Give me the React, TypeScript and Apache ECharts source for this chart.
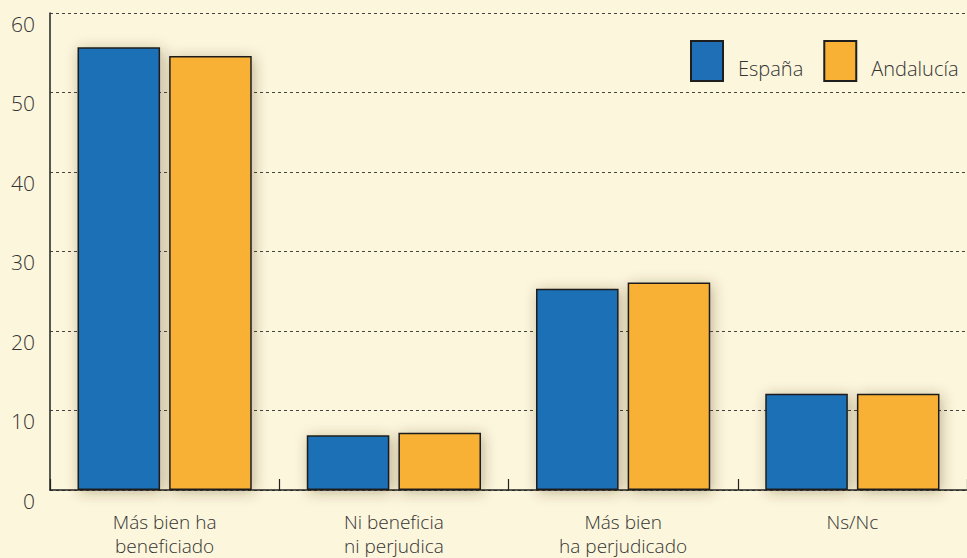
import React, { useEffect, useRef } from "react";
import * as echarts from "echarts";

const categories = ["Más bien ha\nbeneficiado", "Ni beneficia\nni perjudica", "Más bien\nha perjudicado", "Ns/Nc"];
const espana = [55.7, 6.9, 25.3, 12.1];
const andalucia = [54.6, 7.2, 26.1, 12.1];
const seriesNames = ["España", "Andalucía"];
const yTicks = { min: 0, max: 60, interval: 10 };

const FONT = "'Open Sans', Lato, sans-serif";

export default function App() {
  const ref = useRef<HTMLDivElement>(null);
  useEffect(() => {
    if (!ref.current) return;
    const chart = echarts.init(ref.current, undefined, { renderer: "svg" });
    const barStyle = (color: string) => ({
      color,
      borderColor: "#1e1e1e",
      borderWidth: 1.5,
      shadowBlur: 14,
      shadowColor: "rgba(70,55,20,0.35)",
      shadowOffsetX: 2,
      shadowOffsetY: 2,
    });
    chart.setOption({
      animation: false,
      backgroundColor: "#fcf6dc",
      textStyle: { fontFamily: FONT },
      grid: { left: 50, top: 13, right: -3, bottom: 68, containLabel: false },
      legend: {
        left: 690,
        top: 40,
        padding: 0,
        itemWidth: 32,
        itemHeight: 40,
        itemGap: 20,
        icon: "rect",
        data: seriesNames,
        formatter: "{t|{name}}",
        textStyle: {
          fontFamily: FONT,
          fontSize: 20,
          fontWeight: 300,
          color: "#333",
          rich: {
            t: {
              fontFamily: FONT,
              fontSize: 20,
              fontWeight: 300,
              color: "#333",
              padding: [14, 0, 0, 10],
            },
          },
        },
      },
      xAxis: {
        type: "category",
        data: categories,
        axisLine: { show: true, lineStyle: { color: "#222", width: 1.5 } },
        axisTick: { show: true, inside: true, length: 11, lineStyle: { color: "#222", width: 1.2 } },
        axisLabel: {
          fontFamily: FONT,
          fontSize: 19,
          fontWeight: 300,
          color: "#333",
          lineHeight: 24,
          margin: 20,
          interval: 0,
        },
      },
      yAxis: {
        type: "value",
        min: yTicks.min,
        max: yTicks.max,
        interval: yTicks.interval,
        axisLine: { show: true, lineStyle: { color: "#222", width: 1.5 } },
        axisTick: { show: false },
        axisLabel: {
          fontFamily: FONT,
          fontSize: 21,
          fontWeight: 300,
          color: "#333",
          margin: 15,
          verticalAlign: "top",
        },
        splitLine: {
          show: true,
          lineStyle: { color: "#444", width: 1, type: [3, 3] },
        },
      },
      series: [
        {
          name: seriesNames[0],
          type: "bar",
          data: espana,
          barGap: "11%",
          barCategoryGap: "24%",
          itemStyle: barStyle("#1f6fb6"),
        },
        {
          name: seriesNames[1],
          type: "bar",
          data: andalucia,
          itemStyle: barStyle("#f8b134"),
        },
      ],
    });
    return () => chart.dispose();
  }, []);
  return <div ref={ref} style={{ width: 967, height: 558, position: "fixed", left: 0, top: 0 }} />;
}
